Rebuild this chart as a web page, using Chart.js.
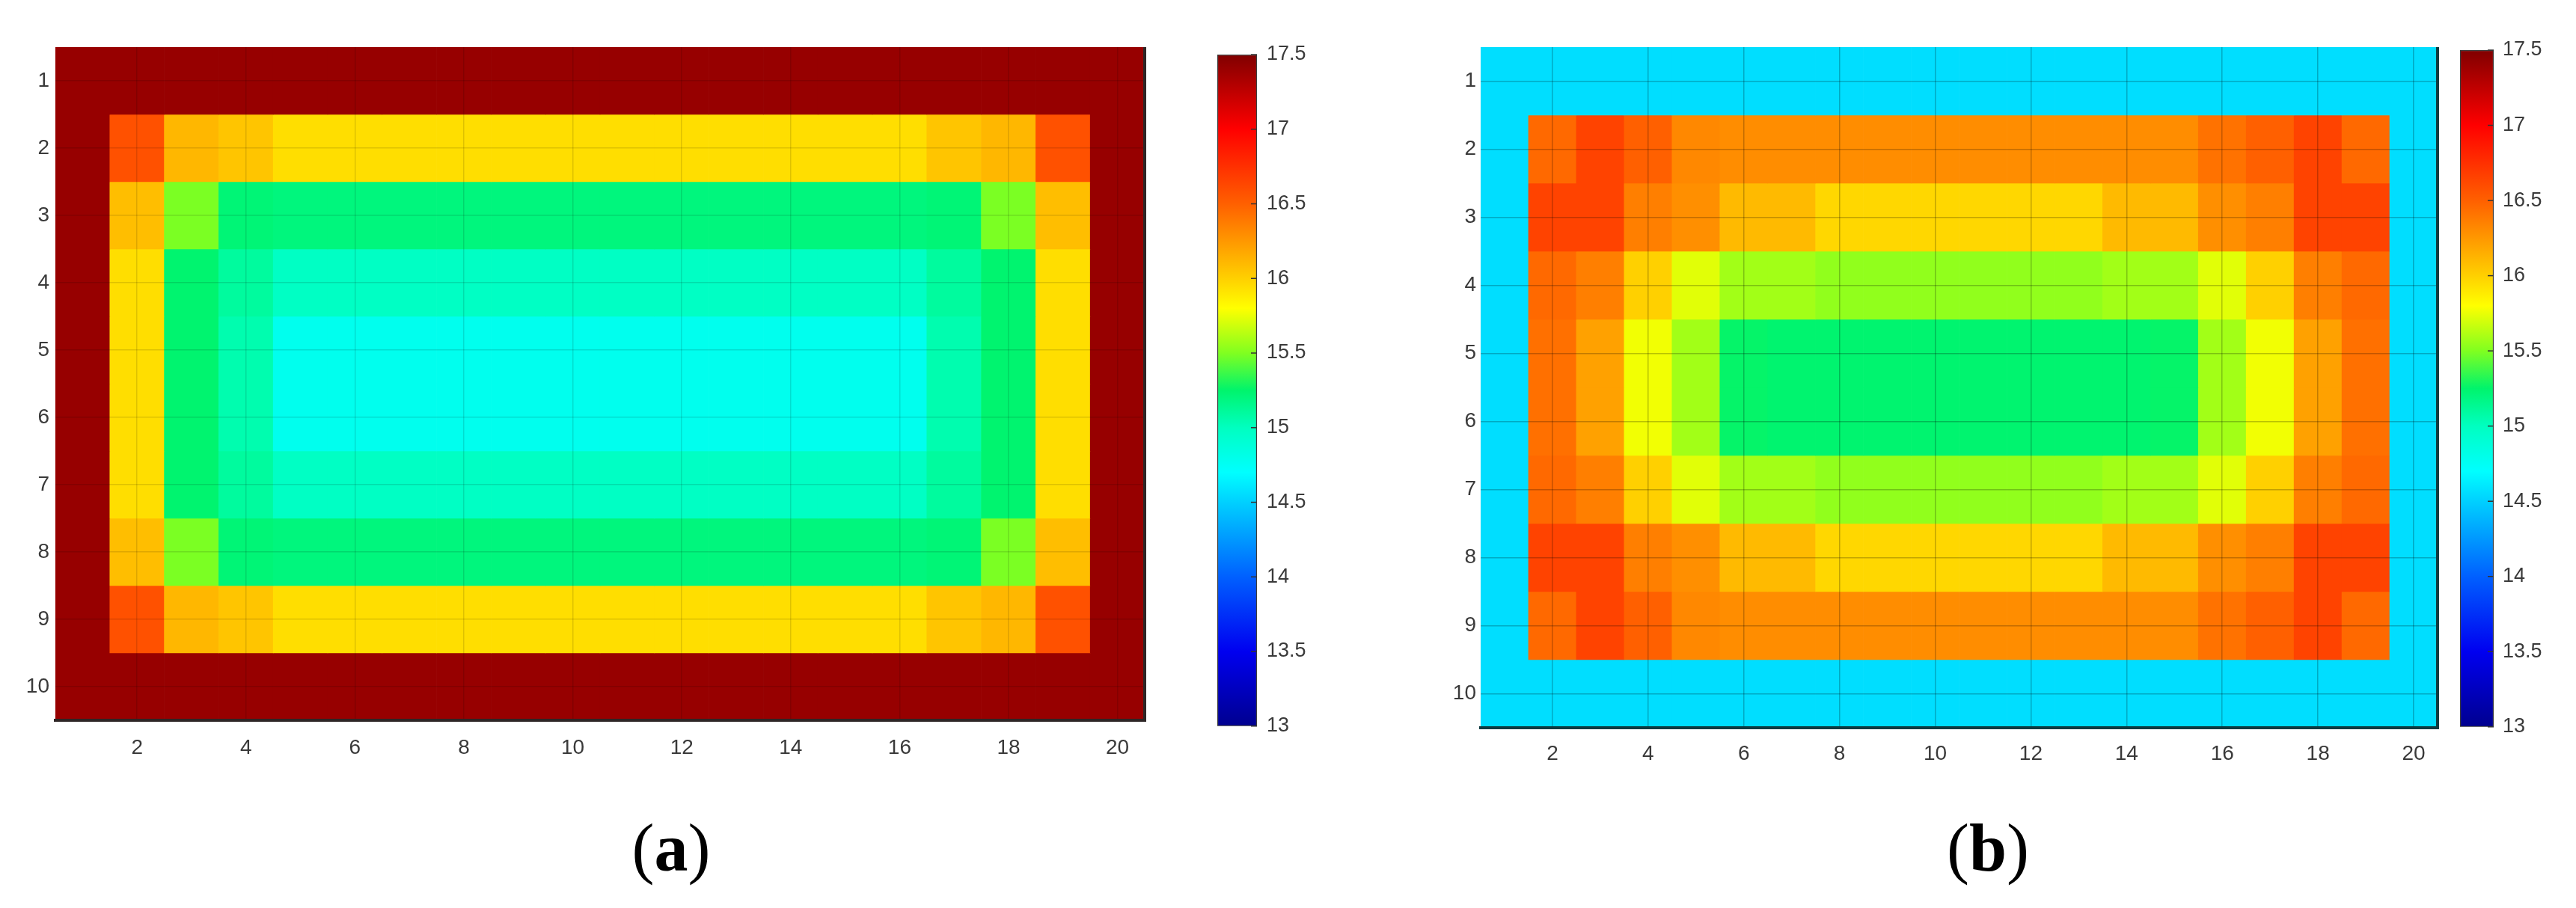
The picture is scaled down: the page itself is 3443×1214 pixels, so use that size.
<!DOCTYPE html>
<html>
<head>
<meta charset="utf-8">
<script src="https://cdn.jsdelivr.net/npm/chart.js@4"></script>
<style>
  html, body { margin: 0; padding: 0; background: #ffffff; }
  body { width: 3443px; height: 1214px; position: relative; overflow: hidden; }
  canvas { position: absolute; }
  .cap { position: absolute; width: 200px; text-align: center; font-family: "Liberation Serif", "DejaVu Serif", serif; font-size: 90px; line-height: 100px; color: #000; }
  .cap b { font-weight: bold; }
</style>
</head>
<body>
<canvas id="heatA" width="1545" height="1060" style="left:0px;top:0px;"></canvas>
<canvas id="barA" width="210" height="1000" style="left:1590px;top:0px;"></canvas>
<canvas id="heatB" width="1375" height="1060" style="left:1890px;top:0px;"></canvas>
<canvas id="barB" width="183" height="1000" style="left:3260px;top:0px;"></canvas>
<div class="cap" style="left:797px;top:1084px;">(<b>a</b>)</div>
<div class="cap" style="left:2557px;top:1084px;">(<b>b</b>)</div>
<script>
// ---------------- data ----------------
const xLabels = ['1','2','3','4','5','6','7','8','9','10','11','12','13','14','15','16','17','18','19','20'];
const yTicks = [1, 2, 3, 4, 5, 6, 7, 8, 9, 10];
const cbTicks = [13, 13.5, 14, 14.5, 15, 15.5, 16, 16.5, 17, 17.5];
const cbMin = 13;
const cbMax = 17.5;

// colormap (jet, as it appears in the reference colour bar)
const cmapVals = [13, 13.5, 14, 14.5, 14.7, 15, 15.25, 15.5, 15.8, 16, 16.5, 17, 17.5];
const cmapCols = ['#00008f', '#0000f0', '#0060ff', '#00d0ff', '#00ffff', '#00ffc0', '#00f46c', '#80ff20', '#ffff00', '#ffd000', '#ff6000', '#ff0000', '#800000'];

// (a) temperature field, rows 1..10, columns 1..20
const heatA = [
  [17.41,17.41,17.41,17.41,17.41,17.41,17.41,17.41,17.41,17.41,17.41,17.41,17.41,17.41,17.41,17.41,17.41,17.41,17.41,17.41],
  [17.41,16.58,16.11,16.05,15.94,15.94,15.94,15.94,15.94,15.94,15.94,15.94,15.94,15.94,15.94,15.94,16.05,16.11,16.58,17.41],
  [17.41,16.08,15.49,15.22,15.20,15.20,15.20,15.20,15.20,15.20,15.20,15.20,15.20,15.20,15.20,15.20,15.22,15.49,16.08,17.41],
  [17.41,15.94,15.24,15.10,14.98,14.98,14.98,14.98,14.98,14.98,14.98,14.98,14.98,14.98,14.98,14.98,15.10,15.24,15.94,17.41],
  [17.41,15.94,15.24,15.05,14.78,14.78,14.78,14.78,14.78,14.78,14.78,14.78,14.78,14.78,14.78,14.78,15.05,15.24,15.94,17.41],
  [17.41,15.94,15.24,15.05,14.78,14.78,14.78,14.78,14.78,14.78,14.78,14.78,14.78,14.78,14.78,14.78,15.05,15.24,15.94,17.41],
  [17.41,15.94,15.24,15.10,14.98,14.98,14.98,14.98,14.98,14.98,14.98,14.98,14.98,14.98,14.98,14.98,15.10,15.24,15.94,17.41],
  [17.41,16.08,15.49,15.22,15.20,15.20,15.20,15.20,15.20,15.20,15.20,15.20,15.20,15.20,15.20,15.20,15.22,15.49,16.08,17.41],
  [17.41,16.58,16.11,16.05,15.94,15.94,15.94,15.94,15.94,15.94,15.94,15.94,15.94,15.94,15.94,15.94,16.05,16.11,16.58,17.41],
  [17.41,17.41,17.41,17.41,17.41,17.41,17.41,17.41,17.41,17.41,17.41,17.41,17.41,17.41,17.41,17.41,17.41,17.41,17.41,17.41]
];

// (b) temperature field, rows 1..10, columns 1..20
const heatB = [
  [14.56,14.56,14.56,14.56,14.56,14.56,14.56,14.56,14.56,14.56,14.56,14.56,14.56,14.56,14.56,14.56,14.56,14.56,14.56,14.56],
  [14.56,16.46,16.65,16.50,16.32,16.30,16.30,16.30,16.30,16.30,16.30,16.30,16.30,16.30,16.30,16.42,16.50,16.65,16.46,14.56],
  [14.56,16.65,16.65,16.36,16.29,16.10,16.10,15.97,15.97,15.97,15.97,15.97,15.97,16.10,16.10,16.29,16.36,16.65,16.65,14.56],
  [14.56,16.46,16.36,16.00,15.73,15.58,15.58,15.54,15.54,15.54,15.54,15.54,15.54,15.58,15.58,15.73,16.00,16.36,16.46,14.56],
  [14.56,16.43,16.21,15.77,15.58,15.26,15.24,15.24,15.24,15.24,15.24,15.24,15.24,15.24,15.26,15.58,15.77,16.21,16.43,14.56],
  [14.56,16.43,16.21,15.77,15.58,15.26,15.24,15.24,15.24,15.24,15.24,15.24,15.24,15.24,15.26,15.58,15.77,16.21,16.43,14.56],
  [14.56,16.46,16.36,16.00,15.73,15.58,15.58,15.54,15.54,15.54,15.54,15.54,15.54,15.58,15.58,15.73,16.00,16.36,16.46,14.56],
  [14.56,16.65,16.65,16.36,16.29,16.10,16.10,15.97,15.97,15.97,15.97,15.97,15.97,16.10,16.10,16.29,16.36,16.65,16.65,14.56],
  [14.56,16.46,16.65,16.50,16.32,16.30,16.30,16.30,16.30,16.30,16.30,16.30,16.30,16.30,16.30,16.42,16.50,16.65,16.46,14.56],
  [14.56,14.56,14.56,14.56,14.56,14.56,14.56,14.56,14.56,14.56,14.56,14.56,14.56,14.56,14.56,14.56,14.56,14.56,14.56,14.56]
];

// ---------------- colour mapping ----------------
function hexToRgb(h) {
  return [parseInt(h.slice(1, 3), 16), parseInt(h.slice(3, 5), 16), parseInt(h.slice(5, 7), 16)];
}
function colorOf(v) {
  if (v <= cmapVals[0]) return cmapCols[0];
  const n = cmapVals.length;
  if (v >= cmapVals[n - 1]) return cmapCols[n - 1];
  for (let i = 0; i < n - 1; i++) {
    if (v >= cmapVals[i] && v <= cmapVals[i + 1]) {
      const t = (v - cmapVals[i]) / (cmapVals[i + 1] - cmapVals[i]);
      const a = hexToRgb(cmapCols[i]), b = hexToRgb(cmapCols[i + 1]);
      const c = a.map((x, k) => Math.round(x + (b[k] - x) * t));
      return 'rgb(' + c.join(',') + ')';
    }
  }
  return cmapCols[n - 1];
}

const tickFont = { family: '"Liberation Sans", Arial, sans-serif', size: 28 };
const tickColor = '#3a3a3a';

// right-hand frame edge of the heat map axes
const rightBorder = {
  id: 'rightBorder',
  afterDraw(chart, args, opts) {
    const a = chart.chartArea, c = chart.ctx;
    c.save();
    c.strokeStyle = opts.color || '#222';
    c.lineWidth = opts.width || 4;
    c.beginPath();
    c.moveTo(a.right, a.top);
    c.lineTo(a.right, a.bottom + 2);
    c.stroke();
    c.restore();
  }
};

// short inward tick marks (MATLAB style) on the right edge of the colour bar
const innerTicks = {
  id: 'innerTicks',
  afterDraw(chart) {
    const a = chart.chartArea, c = chart.ctx, y = chart.scales.y;
    c.save();
    c.strokeStyle = '#333';
    c.lineWidth = 1.5;
    y.ticks.forEach((t) => {
      const py = y.getPixelForValue(t.value);
      c.beginPath();
      c.moveTo(a.right - 8, py);
      c.lineTo(a.right, py);
      c.stroke();
    });
    c.restore();
  }
};

function heatChart(id, matrix, g) {
  const datasets = matrix.map((row, r) => ({
    data: row.map(() => [yTicks[r] - 0.5, yTicks[r] + 0.5]),
    backgroundColor: row.map(colorOf),
    borderWidth: 0,
    barPercentage: 1,
    categoryPercentage: 1,
    grouped: false
  }));
  return new Chart(document.getElementById(id), {
    type: 'bar',
    data: { labels: xLabels, datasets },
    plugins: [rightBorder],
    options: {
      responsive: false,
      animation: false,
      events: [],
      layout: { padding: { top: g.top, left: 0, right: g.right, bottom: 0 } },
      plugins: { legend: { display: false }, tooltip: { enabled: false }, rightBorder: { color: g.borderColor, width: 4 } },
      scales: {
        x: {
          type: 'category',
          offset: true,
          grid: {
            z: 1,
            offset: false,
            drawTicks: false,
            lineWidth: 1.5,
            color: (ctx) => (ctx.index % 2 === 1 ? g.gridColor : 'rgba(0,0,0,0)')
          },
          border: { display: true, color: g.borderColor, width: 4, z: 2 },
          ticks: {
            autoSkip: false,
            maxRotation: 0,
            padding: g.xPad,
            font: tickFont,
            color: tickColor,
            callback: (v, i) => (i % 2 === 1 ? xLabels[i] : '')
          },
          afterFit: (s) => { s.height = g.xH; }
        },
        y: {
          type: 'linear',
          reverse: true,
          min: 0.5,
          max: 10.5,
          afterBuildTicks: (s) => { s.ticks = yTicks.map((v) => ({ value: v })); },
          grid: { z: 1, drawTicks: false, lineWidth: 1.5, color: g.gridColor },
          border: { display: false },
          ticks: { padding: g.yPad, font: tickFont, color: tickColor, callback: (v) => String(v) },
          afterFit: (s) => { s.width = g.yW; }
        }
      }
    }
  });
}

function colorBar(id, g) {
  return new Chart(document.getElementById(id), {
    type: 'bar',
    data: {
      labels: [''],
      datasets: [{
        data: [[cbMin, cbMax]],
        backgroundColor: (ctx) => {
          const chart = ctx.chart;
          if (!chart.chartArea) return cmapCols[0];
          const y = chart.scales.y;
          const grad = chart.ctx.createLinearGradient(0, y.getPixelForValue(cbMin), 0, y.getPixelForValue(cbMax));
          cmapVals.forEach((v, i) => grad.addColorStop((v - cbMin) / (cbMax - cbMin), cmapCols[i]));
          return grad;
        },
        borderColor: '#3a3a3a',
        borderWidth: 1.5,
        borderSkipped: false,
        barPercentage: 1,
        categoryPercentage: 1
      }]
    },
    plugins: [innerTicks],
    options: {
      responsive: false,
      animation: false,
      events: [],
      layout: { padding: { top: g.top, left: g.left, right: 0, bottom: g.bottom } },
      plugins: { legend: { display: false }, tooltip: { enabled: false } },
      scales: {
        x: { display: false },
        y: {
          position: 'right',
          min: cbMin,
          max: cbMax,
          afterBuildTicks: (s) => { s.ticks = cbTicks.map((v) => ({ value: v })); },
          grid: { display: false, drawTicks: false },
          border: { display: false },
          ticks: { padding: g.pad, font: { family: '"Liberation Sans", Arial, sans-serif', size: 27 }, color: tickColor, callback: (v) => String(v) },
          afterFit: (s) => { s.width = g.w; }
        }
      }
    }
  });
}

heatChart('heatA', heatA, { top: 63, right: 15, xH: 97, yW: 74, xPad: 20, yPad: 8, gridColor: 'rgba(0,0,0,0.13)', borderColor: '#2e2626' });
heatChart('heatB', heatB, { top: 63, right: 7, xH: 87, yW: 89, xPad: 18, yPad: 6, gridColor: 'rgba(0,0,0,0.24)', borderColor: '#0d3a40' });
colorBar('barA', { top: 73, left: 37, bottom: 29, w: 120, pad: 13 });
colorBar('barB', { top: 67, left: 28, bottom: 26, w: 110, pad: 12 });
</script>
</body>
</html>
